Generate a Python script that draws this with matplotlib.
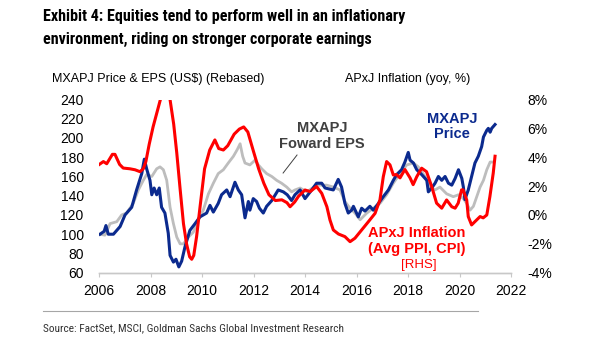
import matplotlib
matplotlib.use("Agg")
import matplotlib.pyplot as plt
from matplotlib import font_manager
from matplotlib.font_manager import FontProperties
from matplotlib.lines import Line2D

plt.rcParams["font.family"] = ["Liberation Sans", "DejaVu Sans"]

NARROW_FAMILIES = ["Liberation Sans Narrow", "Arial Narrow", "Roboto Condensed", "PT Sans Narrow",
                   "Pragati Narrow", "Asap Condensed", "Barlow Semi Condensed"]


def weight_num(w):
    if isinstance(w, int):
        return w
    return 700 if "bold" in str(w).lower() else 400


def narrow_font(bold):
    # first static narrow face with the right weight, else plain Liberation Sans
    want = 700 if bold else 400
    faces = font_manager.fontManager.ttflist
    for fam in NARROW_FAMILIES:
        for f in faces:
            if f.name == fam and f.style == "normal" and weight_num(f.weight) == want:
                return FontProperties(fname=f.fname)
    return FontProperties(family="Liberation Sans", weight="bold" if bold else "normal")


BLUE = "#0B2A8E"
RED = "#FF0000"
GREY = "#BDBDBD"

# MXAPJ price (rebased, US$)
price_year = [2006.04, 2006.2, 2006.27, 2006.36, 2006.56, 2006.82, 2007.01, 2007.27, 2007.46, 2007.66,
              2007.76, 2007.85, 2007.98, 2008.05, 2008.14, 2008.24, 2008.34, 2008.43, 2008.56, 2008.69,
              2008.76, 2008.89, 2008.99, 2009.1, 2009.21, 2009.34, 2009.53, 2009.73, 2009.92, 2010.18,
              2010.31, 2010.44, 2010.63, 2010.76, 2010.96, 2011.09, 2011.28, 2011.41, 2011.54, 2011.67,
              2011.80, 2011.86, 2011.99, 2012.12, 2012.23, 2012.38, 2012.51, 2012.71, 2012.96, 2013.16,
              2013.31, 2013.48, 2013.61, 2013.81, 2014.0, 2014.26, 2014.45, 2014.65, 2014.78, 2015.10,
              2015.29, 2015.42, 2015.55, 2015.68, 2015.81, 2015.88, 2016.07, 2016.20, 2016.33, 2016.52,
              2016.65, 2016.85, 2017.04, 2017.24, 2017.43, 2017.56, 2017.75, 2017.88, 2018.01, 2018.08,
              2018.21, 2018.34, 2018.53, 2018.73, 2018.79, 2018.92, 2019.05, 2019.18, 2019.31, 2019.44,
              2019.57, 2019.70, 2019.83, 2019.96, 2020.09, 2020.15, 2020.21, 2020.34, 2020.47, 2020.60,
              2020.73, 2020.86, 2020.93, 2021.06, 2021.12, 2021.19, 2021.25, 2021.38]
price_val = [100, 103, 109, 100, 100, 108, 120, 128, 146, 163,
             178, 168, 156, 141, 148, 141, 148, 128, 122, 101,
             78, 71, 74, 66, 72, 87, 104, 111, 118, 122,
             130, 123, 132, 141, 146, 139, 154, 146, 141, 117,
             134, 125, 137, 134, 127, 122, 129, 135, 146, 144,
             141, 135, 141, 146, 137, 146, 153, 153, 148, 146,
             157, 149, 132, 122, 125, 129, 118, 127, 124, 129,
             125, 132, 139, 146, 156, 162, 167, 175, 185, 177,
             174, 167, 162, 156, 144, 148, 153, 160, 156, 160,
             153, 151, 158, 167, 158, 149, 136, 146, 160, 174,
             181, 191, 201, 208, 210, 206, 210, 214]

# MXAPJ forward EPS (rebased)
eps_year = [2006.04, 2006.23, 2006.43, 2006.69, 2006.88, 2007.07, 2007.33, 2007.53, 2007.72, 2007.85,
            2008.05, 2008.24, 2008.37, 2008.50, 2008.63, 2008.76, 2008.89, 2009.02, 2009.15, 2009.28,
            2009.47, 2009.66, 2009.86, 2010.05, 2010.25, 2010.44, 2010.63, 2010.83, 2011.02, 2011.22,
            2011.37, 2011.48, 2011.58, 2011.67, 2011.86, 2012.06, 2012.19, 2012.32, 2012.51, 2012.71,
            2012.90, 2013.09, 2013.29, 2013.48, 2013.61, 2013.81, 2014.07, 2014.45, 2014.84, 2015.10,
            2015.36, 2015.55, 2015.75, 2015.94, 2016.14, 2016.40, 2016.65, 2016.91, 2017.17, 2017.43,
            2017.69, 2017.95, 2018.21, 2018.40, 2018.66, 2018.85, 2019.05, 2019.24, 2019.50, 2019.76,
            2019.96, 2020.15, 2020.28, 2020.41, 2020.54, 2020.67, 2020.80, 2020.93, 2021.06, 2021.19,
            2021.25]
eps_val = [100, 99, 111, 113, 120, 122, 132, 146, 156, 162,
           160, 168, 170, 167, 156, 128, 111, 97, 90, 90,
           97, 102, 115, 125, 142, 153, 163, 167, 174, 181,
           188, 194, 181, 174, 172, 177, 172, 168, 163, 160,
           156, 153, 149, 144, 146, 148, 144, 151, 151, 149,
           146, 134, 127, 122, 115, 122, 127, 132, 141, 153,
           163, 172, 174, 170, 160, 149, 146, 149, 142, 139,
           141, 137, 132, 125, 129, 139, 149, 156, 167, 175,
           175]

# APxJ inflation, avg of PPI and CPI (yoy %, RHS)
infl_year = [2006.01, 2006.17, 2006.30, 2006.52, 2006.62, 2006.8, 2006.94, 2007.2, 2007.4, 2007.59,
             2007.72, 2007.82, 2007.95, 2008.1, 2008.25, 2008.4, 2008.57, 2008.75, 2008.9, 2009.02,
             2009.15, 2009.28, 2009.4, 2009.52, 2009.6, 2009.68, 2009.79, 2009.92, 2010.1, 2010.3,
             2010.5, 2010.65, 2010.83, 2011.0, 2011.25, 2011.45, 2011.62, 2011.78, 2012.0, 2012.2,
             2012.4, 2012.6, 2012.85, 2013.1, 2013.3, 2013.42, 2013.6, 2013.75, 2014.0, 2014.2,
             2014.45, 2014.65, 2014.85, 2014.97, 2015.1, 2015.3, 2015.55, 2015.75, 2015.94, 2016.2,
             2016.46, 2016.72, 2016.91, 2017.04, 2017.17, 2017.3, 2017.43, 2017.55, 2017.69, 2017.88,
             2018.08, 2018.2, 2018.34, 2018.53, 2018.72, 2018.92, 2019.11, 2019.31, 2019.5, 2019.7,
             2019.83, 2019.95, 2020.08, 2020.14, 2020.28, 2020.34, 2020.47, 2020.6, 2020.8, 2020.92,
             2021.06, 2021.18, 2021.31, 2021.38]
infl_val = [3.5, 3.7, 3.55, 4.2, 4.2, 3.5, 3.25, 3.2, 3.13, 3.0,
            3.2, 3.7, 4.9, 6.1, 7.1, 8.1, 9.3, 8.1, 6.3, 4.3,
            1.8, -0.6, -2.0, -2.9, -3.07, -2.8, -1.5, 0.5, 3.2, 4.5,
            5.2, 4.6, 4.5, 4.8, 5.6, 5.95, 6.1, 5.75, 4.4, 3.2,
            2.2, 1.4, 1.0, 1.05, 0.85, 0.57, 0.9, 1.3, 1.73, 1.62,
            1.97, 1.5, 0.57, -0.35, -1.04, -1.32, -1.5, -1.85, -1.61, -1.04,
            -0.47, 0.11, 1.04, 2.65, 3.7, 3.47, 2.77, 2.8, 2.57, 3.15,
            2.57, 2.1, 2.65, 3.24, 3.0, 1.97, 0.82, 0.47, 1.04, 0.57,
            0.47, 0.82, 1.74, 1.74, 1.04, -0.11, -0.69, -0.46, -0.11, -0.2,
            0.0, 1.27, 2.9, 4.07]

x_ticks = [2006, 2008, 2010, 2012, 2014, 2016, 2018, 2020, 2022]
left_ticks = list(range(60, 241, 20))
right_ticks = list(range(-4, 9, 2))

W, H = 605, 341
fig = plt.figure(figsize=(W / 100, H / 100), dpi=100)


def fx(x):
    return x / W


def fy(y):
    return 1 - y / H


ax = fig.add_axes([fx(99), fy(272.7), fx(511) - fx(99), fy(99.5) - fy(272.7)])
ax2 = ax.twinx()

ax.plot(eps_year, eps_val, color=GREY, lw=2.0, zorder=2)
ax.plot(price_year, price_val, color=BLUE, lw=2.2, zorder=3)
ax2.plot(infl_year, infl_val, color=RED, lw=2.2, zorder=4)

ax.set_xlim(2006, 2022)
ax.set_ylim(60, 240)
ax2.set_ylim(-4, 8)
ax.set_xticks(x_ticks)
ax.set_yticks(left_ticks)
ax2.set_yticks(right_ticks)
ax2.set_yticklabels([f"{v}%" for v in right_ticks])

for a in (ax, ax2):
    for s in ("top", "left", "right"):
        a.spines[s].set_visible(False)
    a.spines["bottom"].set_color("#C8C8C8")
    a.spines["bottom"].set_linewidth(1.0)
ax.tick_params(axis="x", length=3, color="#C8C8C8", labelsize=10, pad=5)
ax.tick_params(axis="y", length=0, labelsize=10, pad=11)
ax2.tick_params(axis="y", length=0, labelsize=10, pad=12)

# series labels
ax.text(2014.66, 202, "MXAPJ\nFoward EPS", color="#404040", fontsize=10.5, fontweight="bold",
        ha="center", va="center", linespacing=1.15)
ax.plot([2013.69, 2013.15], [182.3, 163.6], color="#404040", lw=0.7)
ax.text(2019.71, 212, "MXAPJ\nPrice", color=BLUE, fontsize=10.5, fontweight="bold",
        ha="center", va="center", linespacing=1.15)
ax.text(2018.35, 93, "APxJ Inflation\n(Avg PPI, CPI)", color=RED, fontsize=10.5, fontweight="bold",
        ha="center", va="center", linespacing=1.2)
ax.text(2018.43, 68, "[RHS]", color=RED, fontsize=9.5, ha="center", va="center")

# headings in a narrow face; size set so the first line is ~362 px wide
head_fp = narrow_font(True)
t1 = fig.text(fx(43), fy(16), "Exhibit 4: Equities tend to perform well in an inflationary",
              fontproperties=head_fp, fontsize=13, va="center")
t2 = fig.text(fx(43), fy(39), "environment, riding on stronger corporate earnings",
              fontproperties=head_fp, fontsize=13, va="center")
fig.text(fx(52), fy(79), "MXAPJ Price & EPS (US$) (Rebased)", fontsize=9, va="center")
fig.text(fx(470), fy(79), "APxJ Inflation (yoy, %)", fontsize=9, va="center", ha="right")

# footer
fig.add_artist(Line2D([fx(43), fx(478)], [fy(311), fy(311)], color="#A6A6A6", lw=0.8))
src_fp = narrow_font(False)
t3 = fig.text(fx(43), fy(328), "Source: FactSet, MSCI, Goldman Sachs Global Investment Research",
              fontproperties=src_fp, fontsize=9, color="#333333", va="center")

r = fig.canvas.get_renderer()
for t, target in ((t1, 362), (t3, 304)):
    w = t.get_window_extent(r).width
    t.set_fontsize(t.get_fontsize() * target / w)
t2.set_fontsize(t1.get_fontsize())

fig.savefig("out.png", dpi=100)
